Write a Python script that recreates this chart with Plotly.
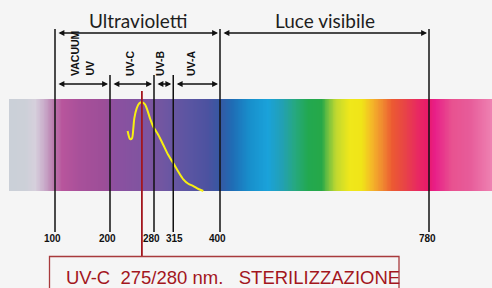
import numpy as np
import plotly.graph_objects as go

# ---------------- data ----------------
boundaries_nm = [100, 200, 280, 315, 400, 780]
boundary_labels = ["100", "200", "280", "315", "400", "780"]
range_names = ["Ultravioletti", "Luce visibile"]
range_bounds = [(100, 400), (400, 780)]
uv_band_names = ["VACUUM|UV", "UV-C", "UV-B", "UV-A"]
uv_band_bounds = [(100, 200), (200, 280), (280, 315), (315, 400)]
# germicidal efficiency curve (wavelength nm, relative height on band 0..1)
curve_nm = [232, 234.5, 236.4, 240, 242.4, 244.2, 248.5, 253.3, 258.2, 263.6, 267.9,
            272.7, 278.8, 287.9, 297, 306, 315.2, 324.2, 333.3, 342.4, 351.5, 360.6, 369.7]
curve_rel = [0.652, 0.59, 0.565, 0.573, 0.68, 0.79, 0.899, 0.953, 0.964, 0.942, 0.88,
             0.79, 0.699, 0.609, 0.5, 0.391, 0.301, 0.21, 0.127, 0.079, 0.054, 0.022, 0.0]
peak_nm = 258
caption = "UV-C\u00a0\u00a0275/280 nm.\u00a0\u00a0\u00a0STERILIZZAZIONE"

# ---------------- styles / layout helpers ----------------
PXW = 0.55            # pixels per nm
def X(px):            # pixel column -> nm
    return px / PXW
def Y(py):            # pixel row -> band units (band 0..1)
    return (191 - py) / 92.0

BG = "#f5f5f5"
DARKRED = "#a3161d"

spectrum_stops = [
    (16.4, "#cbd0d8"), (45, "#ccd0d8"), (64, "#d6d0dc"), (82, "#c8a8c8"),
    (96, "#bb80b0"), (113, "#b8559c"), (145, "#a8509a"), (191, "#9c4e98"),
    (209, "#8c50a0"), (273, "#7c55a0"), (305, "#6c56a2"), (345, "#5a55a2"),
    (378, "#4c52a0"), (400, "#3658a2"), (422, "#1f6cb5"), (455, "#1890cc"),
    (487, "#1aa2da"), (513, "#22a0b4"), (536, "#26a880"), (560, "#22a850"),
    (585, "#26a848"), (596, "#70c040"), (611, "#c0d830"), (636, "#f0e81a"),
    (658, "#f0e418"), (676, "#f4b828"), (695, "#f08a30"), (713, "#ec5a32"),
    (736, "#e84446"), (760, "#e82862"), (778, "#e81a6a"), (791, "#e81e88"),
    (822, "#e85290"), (855, "#e75c9a"), (894.5, "#ee82b2"),
]
zmin, zmax = spectrum_stops[0][0], spectrum_stops[-1][0]
colorscale = [[(v - zmin) / (zmax - zmin), c] for v, c in spectrum_stops]

edges = np.linspace(X(9), X(492), 601)
centers = (edges[:-1] + edges[1:]) / 2

fig = go.Figure()
fig.add_trace(go.Heatmap(
    x=edges, y=[0, 1], z=[centers], colorscale=colorscale,
    zmin=zmin, zmax=zmax, showscale=False, hoverinfo="skip"))

shapes = []
range_edges = sorted({v for ab in range_bounds for v in ab})
for b in boundaries_nm:
    top = Y(29) if b in range_edges else Y(75)
    shapes.append(dict(type="line", xref="x", yref="y", x0=b, x1=b, y0=top, y1=Y(232),
                       line=dict(color="#111111", width=1.5), layer="above"))
# red marker + caption box
shapes.append(dict(type="line", xref="x", yref="y", x0=peak_nm, x1=peak_nm,
                   y0=Y(91), y1=Y(256.5), line=dict(color=DARKRED, width=1.8), layer="above"))
shapes.append(dict(type="rect", xref="x", yref="y", x0=X(49.5), x1=X(399), y0=Y(256.5), y1=Y(300),
                   line=dict(color="#a83a3c", width=1.3), fillcolor=BG, layer="above"))

fig.add_trace(go.Scatter(x=curve_nm, y=curve_rel, mode="lines",
                         line=dict(color="#f7ef12", width=2, shape="spline", smoothing=0.8),
                         hoverinfo="skip", showlegend=False))

ann = []
def dbl_arrow(a, b, py):
    ann.append(dict(x=b, y=Y(py), ax=a, ay=Y(py), xref="x", yref="y", axref="x", ayref="y",
                    text="", showarrow=True, arrowside="end+start", arrowhead=2, startarrowhead=2,
                    arrowsize=0.9, startarrowsize=0.9, arrowwidth=1.3, arrowcolor="#111111",
                    standoff=2, startstandoff=2))

for name, (a, b) in zip(range_names, range_bounds):
    dbl_arrow(a, b, 33)
    ann.append(dict(x=(a + b) / 2, y=Y(20), xref="x", yref="y", text=name, showarrow=False,
                    font=dict(family="Lato", size=19, color="#1e1e1e"),
                    xanchor="center", yanchor="middle"))

label_font = dict(family="Liberation Sans", size=10, color="#111111")
rot_font = dict(family="Liberation Sans", size=10.5, color="#111111")
band_label_shift = [-0.5, -2, -3.6, -5.6]
for name, (a, b), sh in zip(uv_band_names, uv_band_bounds, band_label_shift):
    dbl_arrow(a, b, 84)
    parts = name.split("|")
    n = len(parts)
    for i, p in enumerate(parts):
        ann.append(dict(x=(a + b) / 2, y=Y(78), xref="x", yref="y", text="<b>%s</b>" % p,
                        showarrow=False, textangle=-90, font=rot_font,
                        xanchor="center", yanchor="bottom",
                        xshift=(i - (n - 1) / 2) * 14 + sh))

tick_shift = {"315": 1.5, "780": -1.5}
for v, lab in zip(boundaries_nm, boundary_labels):
    ann.append(dict(x=v, y=Y(238), xref="x", yref="y", text="<b>%s</b>" % lab, showarrow=False,
                    font=label_font, xanchor="center", yanchor="middle",
                    xshift=tick_shift.get(lab, -2.5)))

ann.append(dict(x=X(64), y=Y(277), xref="x", yref="y", text=caption, showarrow=False,
                font=dict(family="Liberation Sans", size=18.5, color=DARKRED),
                xanchor="left", yanchor="middle"))

fig.update_layout(
    width=492, height=288, margin=dict(l=0, r=0, t=0, b=0),
    paper_bgcolor=BG, plot_bgcolor=BG, showlegend=False,
    xaxis=dict(range=[0, X(492)], visible=False, fixedrange=True),
    yaxis=dict(range=[Y(288), Y(0)], visible=False, fixedrange=True),
    shapes=shapes, annotations=ann,
)
fig.write_html("out.html", config={"displayModeBar": False},
               post_script="document.body.style.margin='0';document.body.style.overflow='hidden';")
